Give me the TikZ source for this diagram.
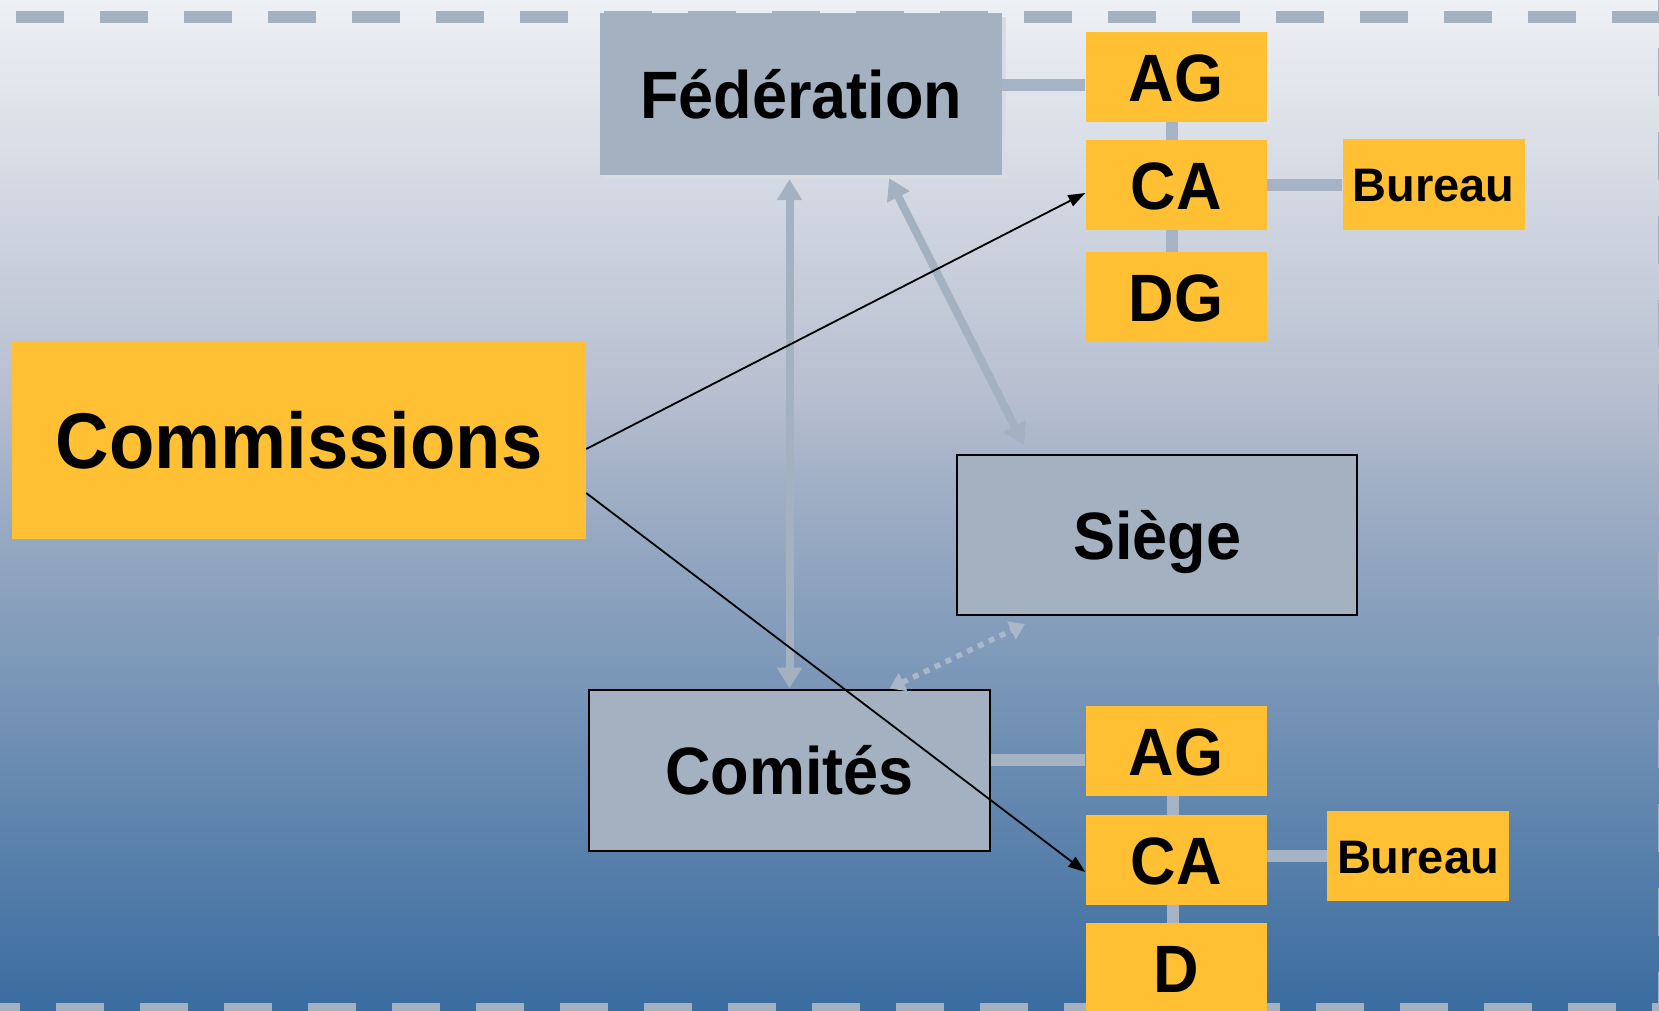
\documentclass[tikz,border=0pt]{standalone}
\usepackage{fontspec}
\setmainfont{Liberation Sans}
\newfontfamily\labfont{Liberation Sans}[FakeStretch=0.94]
\usetikzlibrary{arrows.meta}
\pgfdeclarelayer{bg}
\pgfdeclarelayer{edges}
\pgfsetlayers{bg,edges,main}
\definecolor{gold}{HTML}{FFC133}
\definecolor{slate}{HTML}{A3B1C1}
\definecolor{connc}{HTML}{A5B3C4}
\definecolor{dotc}{HTML}{A9B7C9}
\definecolor{shadowc}{HTML}{D9DCE1}
\definecolor{bgA}{HTML}{EDF0F4}
\definecolor{bgB}{HTML}{B6BECF}
\definecolor{bgC}{HTML}{A1B0C6}
\definecolor{bgD}{HTML}{3A6CA0}
\definecolor{framec}{HTML}{A3B1C1}
\tikzset{
  anybox/.style={inner sep=0pt, text depth=0pt},
  ybox/.style={anybox, fill=gold, minimum width=181pt, minimum height=90pt,
    font=\labfont\bfseries\fontsize{67}{67}\selectfont, text height=48pt},
  bureaubox/.style={anybox, fill=gold, minimum width=182pt, minimum height=90pt,
    font=\bfseries\fontsize{47}{47}\selectfont, text height=34pt},
  gbox/.style={anybox, fill=slate, minimum width=401pt, minimum height=161pt,
    font=\labfont\bfseries\fontsize{67}{67}\selectfont, text height=48pt},
  gboxb/.style={gbox, draw=black, line width=2pt},
  link/.style={draw=connc, line width=12pt},
  garrow/.style={draw=slate, line width=8pt,
    {Triangle[length=21pt,width=24pt]}-{Triangle[length=21pt,width=24pt]}},
  darrow/.style={draw=dotc, line width=5.5pt, dash pattern=on 6pt off 6pt,
    {Triangle[length=15pt,width=19pt]}-{Triangle[length=15pt,width=19pt]}},
  barrow/.style={draw=black, line width=1.8pt, -{Triangle[length=17pt,width=12pt]}},
  framel/.style={draw=framec, line width=12pt, dash pattern=on 48pt off 36pt}
}
\begin{document}
\begin{tikzpicture}[x=1pt,y=-1pt]
\useasboundingbox (0,0) rectangle (1659,1010);
\begin{pgfonlayer}{bg}
\clip (0,0) rectangle (1659,1010);
\shade[top color=bgA,bottom color=bgB] (0,0) rectangle (1659,400.5);
\shade[top color=bgB,bottom color=bgC] (0,400) rectangle (1659,480.5);
\shade[top color=bgC,bottom color=bgD] (0,480) rectangle (1659,1010);
\draw[framel] (16,17) -- (1720,17);
\draw[framel] (-28,1009) -- (1720,1009);
\draw[framel] (1664,-36) -- (1664,1100);
\end{pgfonlayer}

% nodes
\node[gbox, minimum width=402pt, minimum height=162pt] (Fed) at (801,94) {Fédération};
\node[ybox, minimum width=574pt, minimum height=197pt,
      font=\labfont\bfseries\fontsize{79}{79}\selectfont, text height=56.5pt] (Com) at (299,440) {Commissions};
\node[gboxb, minimum width=400pt, minimum height=160pt] (Siege) at (1157,535) {Siège};
\node[gboxb] (Cmt) at (789.5,770) {Comités};
\node[ybox] (AGa) at (1176,77) {AG};
\node[ybox] (CAa) at (1176,185) {CA};
\node[ybox] (DG) at (1176,297) {DG};
\node[bureaubox, minimum height=91pt] (Bua) at (1433.6,184) {Bureau};
\node[ybox] (AGb) at (1176,751) {AG};
\node[ybox] (CAb) at (1176,860) {CA};
\node[ybox] (Db) at (1176,968) {D};
\node[bureaubox] (Bub) at (1418,856) {Bureau};

% connectors behind boxes
\begin{pgfonlayer}{edges}
\fill[shadowc] ([xshift=4pt,yshift=-4pt]Fed.south west) rectangle ([xshift=4pt,yshift=-4pt]Fed.north east);
\draw[link] ([yshift=-8pt]AGa.west) -- ([yshift=-8pt]AGa.west -| Fed.east);
\draw[link] ([xshift=-4pt]AGa.center) -- ([xshift=-4pt]DG.center);
\draw[link] (CAa.east) -- (CAa.east -| Bua.west);
\draw[link] ([yshift=-9pt]AGb.west) -- ([yshift=-9pt]AGb.west -| Cmt.east);
\draw[link] ([xshift=-3pt]AGb.center) -- ([xshift=-3pt]Db.center);
\draw[link] (Bub.west) -- (Bub.west -| CAb.east);
\end{pgfonlayer}

% arrows
\draw[garrow] (Cmt.north) -- ([yshift=-4pt]Cmt.north |- Fed.south);
\draw[garrow] ([xshift=88pt,yshift=-3pt]Fed.south) -- ([xshift=-133pt,yshift=9pt]Siege.north);
\draw[darrow] ([xshift=100pt]Cmt.north) -- ([xshift=-132pt,yshift=-8pt]Siege.south);
\draw[barrow] ([yshift=-9pt]Com.east) -- ([yshift=-8pt]CAa.west);
\draw[barrow] ([yshift=-53pt]Com.east) -- ([yshift=-12pt]CAb.west);
\end{tikzpicture}
\end{document}
